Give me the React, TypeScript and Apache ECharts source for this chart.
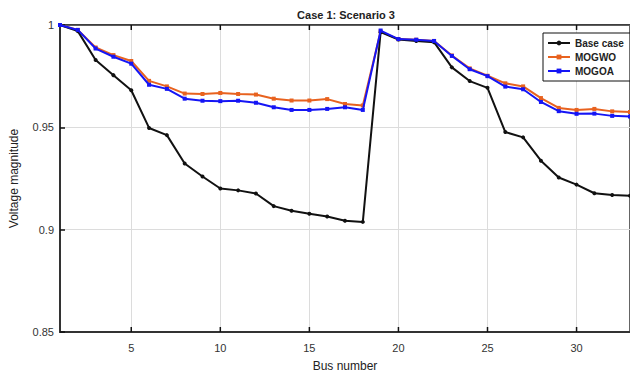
import React, { useEffect, useRef } from "react";
import * as echarts from "echarts";

const buses = Array.from({ length: 33 }, (_, i) => i + 1);
const baseCase = [1.0, 0.997, 0.9829, 0.9755, 0.9681, 0.9497, 0.9462, 0.9323, 0.926, 0.9201, 0.9192, 0.9177, 0.9115, 0.9092, 0.9078, 0.9064, 0.9044, 0.9038, 0.9965, 0.9929, 0.9922, 0.9916, 0.9793, 0.9726, 0.9693, 0.9477, 0.9451, 0.9337, 0.9255, 0.922, 0.9178, 0.9169, 0.9166];
const mogwo = [1.0, 0.9976, 0.989, 0.9853, 0.9824, 0.9727, 0.97, 0.9665, 0.9663, 0.9668, 0.9663, 0.966, 0.964, 0.9631, 0.9631, 0.9638, 0.9614, 0.9607, 0.9968, 0.9931, 0.9928, 0.9922, 0.9851, 0.9788, 0.9752, 0.9715, 0.97, 0.9643, 0.9595, 0.9585, 0.959, 0.9578, 0.9575];
const mogoa = [1.0, 0.9976, 0.9885, 0.9845, 0.9811, 0.9708, 0.9688, 0.964, 0.963, 0.9628, 0.963, 0.962, 0.9598, 0.9585, 0.9585, 0.959, 0.9598, 0.9585, 0.9973, 0.9931, 0.9928, 0.9922, 0.9849, 0.9784, 0.975, 0.9699, 0.9686, 0.9624, 0.9579, 0.9566, 0.9567, 0.9556, 0.9553];
const xTicks = [5, 10, 15, 20, 25, 30];
const seriesNames = ["Base case", "MOGWO", "MOGOA"];
const yMin = 0.85;
const yMax = 1;

export default function App() {
  const ref = useRef<HTMLDivElement>(null);
  useEffect(() => {
    if (!ref.current) return;
    const chart = echarts.init(ref.current, null, { renderer: "svg" });
    const font = "Liberation Sans, Arial, sans-serif";
    const pair = (arr: number[]) => buses.map((b, i) => [b, arr[i]]);
    const titleEl = {
      type: "text",
      x: 346,
      y: 15,
      style: { text: "Case 1: Scenario 3", fontFamily: font, fontSize: 11, fontWeight: "bold", fill: "#222", textAlign: "center", textVerticalAlign: "middle" },
    };
    chart.setOption({
      animation: false,
      backgroundColor: "#fff",
      textStyle: { fontFamily: font },
      grid: { left: 58, top: 25, right: -10, bottom: 39, show: true, borderColor: "#333", borderWidth: 1.5 },
      graphic: [titleEl],
      legend: {
        data: seriesNames,
        orient: "vertical",
        left: 543,
        top: 33,
        backgroundColor: "#fff",
        borderColor: "#111",
        borderWidth: 1,
        padding: [5, 6, 5, 4],
        itemGap: 4,
        itemWidth: 22,
        itemHeight: 6,
        textStyle: { fontFamily: font, fontSize: 10, fontWeight: "bold", color: "#222" },
        z: 20,
      },
      xAxis: [
        {
          type: "value",
          min: 1,
          max: 33,
          name: "Bus number",
          nameLocation: "middle",
          nameGap: 28,
          nameTextStyle: { fontFamily: font, fontSize: 12, color: "#222" },
          axisLine: { show: true, lineStyle: { color: "#333", width: 2 } },
          axisTick: { show: false },
          axisLabel: { customValues: xTicks, margin: 10, fontSize: 11, color: "#333", fontFamily: font },
          splitLine: { show: true, lineStyle: { color: "#dcdcdc", width: 1 } },
        },
        {
          type: "value",
          min: 1,
          max: 33,
          position: "top",
          axisLine: { show: true, lineStyle: { color: "#333", width: 1.5 } },
          axisTick: { show: false },
          axisLabel: { show: false },
          splitLine: { show: false },
        },
      ],
      yAxis: {
        type: "value",
        min: yMin,
        max: yMax,
        interval: 0.05,
        name: "Voltage magnitude",
        nameLocation: "middle",
        nameGap: 40,
        nameTextStyle: { fontFamily: font, fontSize: 12, color: "#222" },
        axisLine: { show: true, lineStyle: { color: "#333", width: 2 } },
        axisTick: { show: true, inside: true, length: 5, lineStyle: { color: "#111", width: 1.5 } },
        axisLabel: {
          margin: 6,
          fontSize: 11,
          color: "#333",
          fontFamily: font,
          formatter: (v: number) => String(Number(v.toFixed(2))),
        },
        splitLine: { show: true, lineStyle: { color: "#dcdcdc", width: 1 } },
      },
      series: [
        {
          name: seriesNames[0],
          type: "line",
          data: pair(baseCase),
          symbol: "circle",
          symbolSize: 4,
          lineStyle: { color: "#111", width: 2 },
          itemStyle: { color: "#111" },
          z: 3,
        },
        {
          name: seriesNames[1],
          type: "line",
          data: pair(mogwo),
          symbol: "rect",
          symbolSize: 4,
          lineStyle: { color: "#E8621F", width: 2 },
          itemStyle: { color: "#E8621F" },
          z: 2,
        },
        {
          name: seriesNames[2],
          type: "line",
          data: pair(mogoa),
          symbol: "rect",
          symbolSize: 4,
          lineStyle: { color: "#1515F5", width: 2 },
          itemStyle: { color: "#1515F5" },
          z: 4,
        },
      ],
    });
    const ticks: any[] = [titleEl];
    xTicks.forEach((t) => {
      const pb = chart.convertToPixel({ gridIndex: 0 }, [t, yMin]) as number[];
      const pt = chart.convertToPixel({ gridIndex: 0 }, [t, yMax]) as number[];
      if (!pb || !pt) return;
      ticks.push({
        type: "line",
        z: 10,
        shape: { x1: pb[0], y1: pb[1], x2: pb[0], y2: pb[1] - 5 },
        style: { stroke: "#111", lineWidth: 1.5 },
      });
      ticks.push({
        type: "line",
        z: 10,
        shape: { x1: pt[0], y1: pt[1], x2: pt[0], y2: pt[1] + 5 },
        style: { stroke: "#111", lineWidth: 1.5 },
      });
    });
    chart.setOption({ graphic: ticks }, { replaceMerge: ["graphic"] });
    return () => chart.dispose();
  }, []);
  return <div ref={ref} style={{ position: "fixed", left: 0, top: 0, width: 630, height: 377 }} />;
}
